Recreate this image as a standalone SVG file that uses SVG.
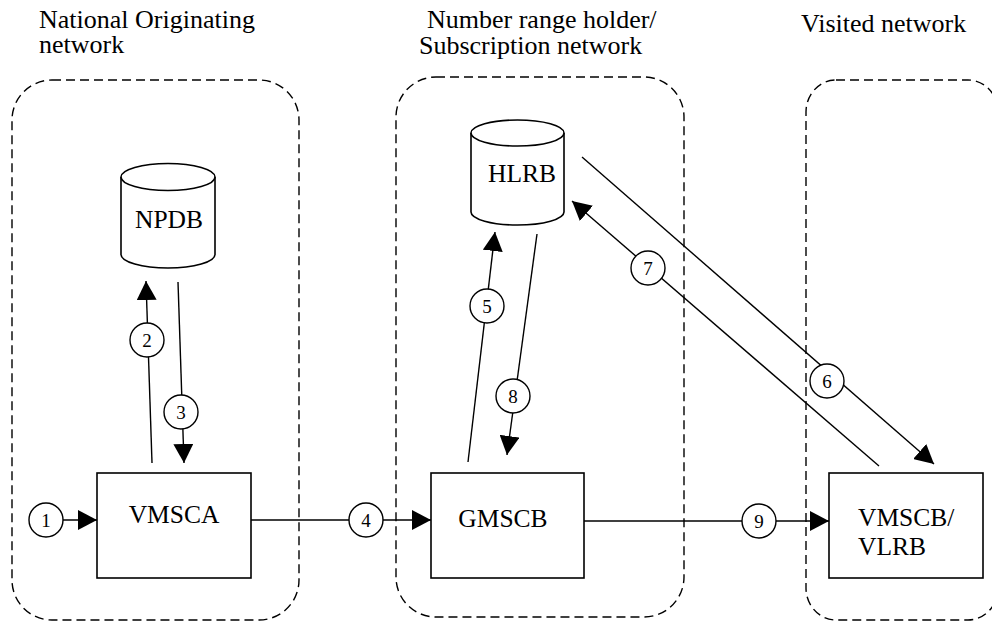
<svg xmlns="http://www.w3.org/2000/svg" width="992" height="621" viewBox="0 0 992 621">
<style>
text{font-family:'Liberation Serif','DejaVu Serif','Times New Roman',serif;fill:#000}
.region{fill:none;stroke:#000;stroke-width:1.4;stroke-dasharray:9 5}
.title{font-size:26px}
.lbl{font-size:25.5px}
.box{fill:#fff;stroke:#000;stroke-width:1.6}
.cyl{fill:#fff;stroke:#000;stroke-width:1.6}
.line{fill:none;stroke:#000;stroke-width:1.4}
.num circle{fill:#fff;stroke:#000;stroke-width:1.4}
.num text{font-size:19px;text-anchor:middle}
</style>
<defs>
<marker id="ah" markerUnits="userSpaceOnUse" markerWidth="20" markerHeight="20" refX="19" refY="10" orient="auto">
<path d="M0,0 L19,10 L0,20 Z" fill="#000"/>
</marker>
</defs>
<rect width="992" height="621" fill="#fff"/>
<g id="regions">
<rect class="region" x="12" y="80" width="287" height="540" rx="40" ry="40"/>
<rect class="region" x="396" y="77" width="288" height="540" rx="40" ry="40"/>
<rect class="region" x="806" y="80" width="192" height="540" rx="30" ry="32"/>
<text class="title" font-family="Liberation Serif, serif" x="39" y="28">National Originating</text>
<text class="title" font-family="Liberation Serif, serif" x="39" y="53">network</text>
<text class="title" font-family="Liberation Serif, serif" x="427" y="28">Number range holder/</text>
<text class="title" font-family="Liberation Serif, serif" x="419" y="54">Subscription network</text>
<text class="title" font-family="Liberation Serif, serif" x="801" y="32">Visited network</text>
</g>
<g id="NPDB">
<path class="cyl" d="M121,177 L121,254.5 A47,13.5 0 0 0 215,254.5 L215,177"/>
<ellipse class="cyl" cx="168" cy="177" rx="47" ry="13.5"/>
<text class="lbl" x="169" y="228" text-anchor="middle">NPDB</text>
</g>
<g id="HLRB">
<path class="cyl" d="M471,133 L471,212 A46.5,13 0 0 0 564,212 L564,133"/>
<ellipse class="cyl" cx="517.5" cy="133" rx="46.5" ry="13"/>
<text class="lbl" x="522" y="182" text-anchor="middle">HLRB</text>
</g>
<g id="VMSCA">
<rect class="box" x="97" y="473" width="154" height="105"/>
<text class="lbl" x="174" y="523" text-anchor="middle">VMSCA</text>
</g>
<g id="GMSCB">
<rect class="box" x="431" y="473" width="153" height="105"/>
<text class="lbl" x="503" y="527" text-anchor="middle">GMSCB</text>
</g>
<g id="VMSCB">
<rect class="box" x="829" y="473" width="154" height="105"/>
<text class="lbl" x="858" y="526">VMSCB/</text>
<text class="lbl" x="858" y="555">VLRB</text>
</g>
<g id="connectors">
<line class="line" x1="63" y1="520" x2="97" y2="520" marker-end="url(#ah)"/>
<line class="line" x1="152" y1="463" x2="146" y2="281" marker-end="url(#ah)"/>
<line class="line" x1="178" y1="282" x2="184" y2="463" marker-end="url(#ah)"/>
<line class="line" x1="251" y1="520" x2="431" y2="520" marker-end="url(#ah)"/>
<line class="line" x1="468" y1="462" x2="495" y2="232" marker-end="url(#ah)"/>
<line class="line" x1="582" y1="157" x2="934" y2="464" marker-end="url(#ah)"/>
<line class="line" x1="879" y1="466" x2="572" y2="201" marker-end="url(#ah)"/>
<line class="line" x1="537" y1="234" x2="507" y2="455" marker-end="url(#ah)"/>
<line class="line" x1="584" y1="521" x2="829" y2="521" marker-end="url(#ah)"/>
<g class="num"><circle cx="46" cy="520" r="17"/><text x="46" y="527">1</text></g>
<g class="num"><circle cx="147" cy="340" r="17"/><text x="147" y="347">2</text></g>
<g class="num"><circle cx="181" cy="412" r="17"/><text x="181" y="419">3</text></g>
<g class="num"><circle cx="366" cy="520" r="17"/><text x="366" y="527">4</text></g>
<g class="num"><circle cx="487" cy="306" r="17"/><text x="487" y="313">5</text></g>
<g class="num"><circle cx="827" cy="381" r="17"/><text x="827" y="388">6</text></g>
<g class="num"><circle cx="648" cy="268" r="17"/><text x="648" y="275">7</text></g>
<g class="num"><circle cx="513" cy="396" r="17"/><text x="513" y="403">8</text></g>
<g class="num"><circle cx="759" cy="521" r="17"/><text x="759" y="528">9</text></g>
</g>
</svg>
